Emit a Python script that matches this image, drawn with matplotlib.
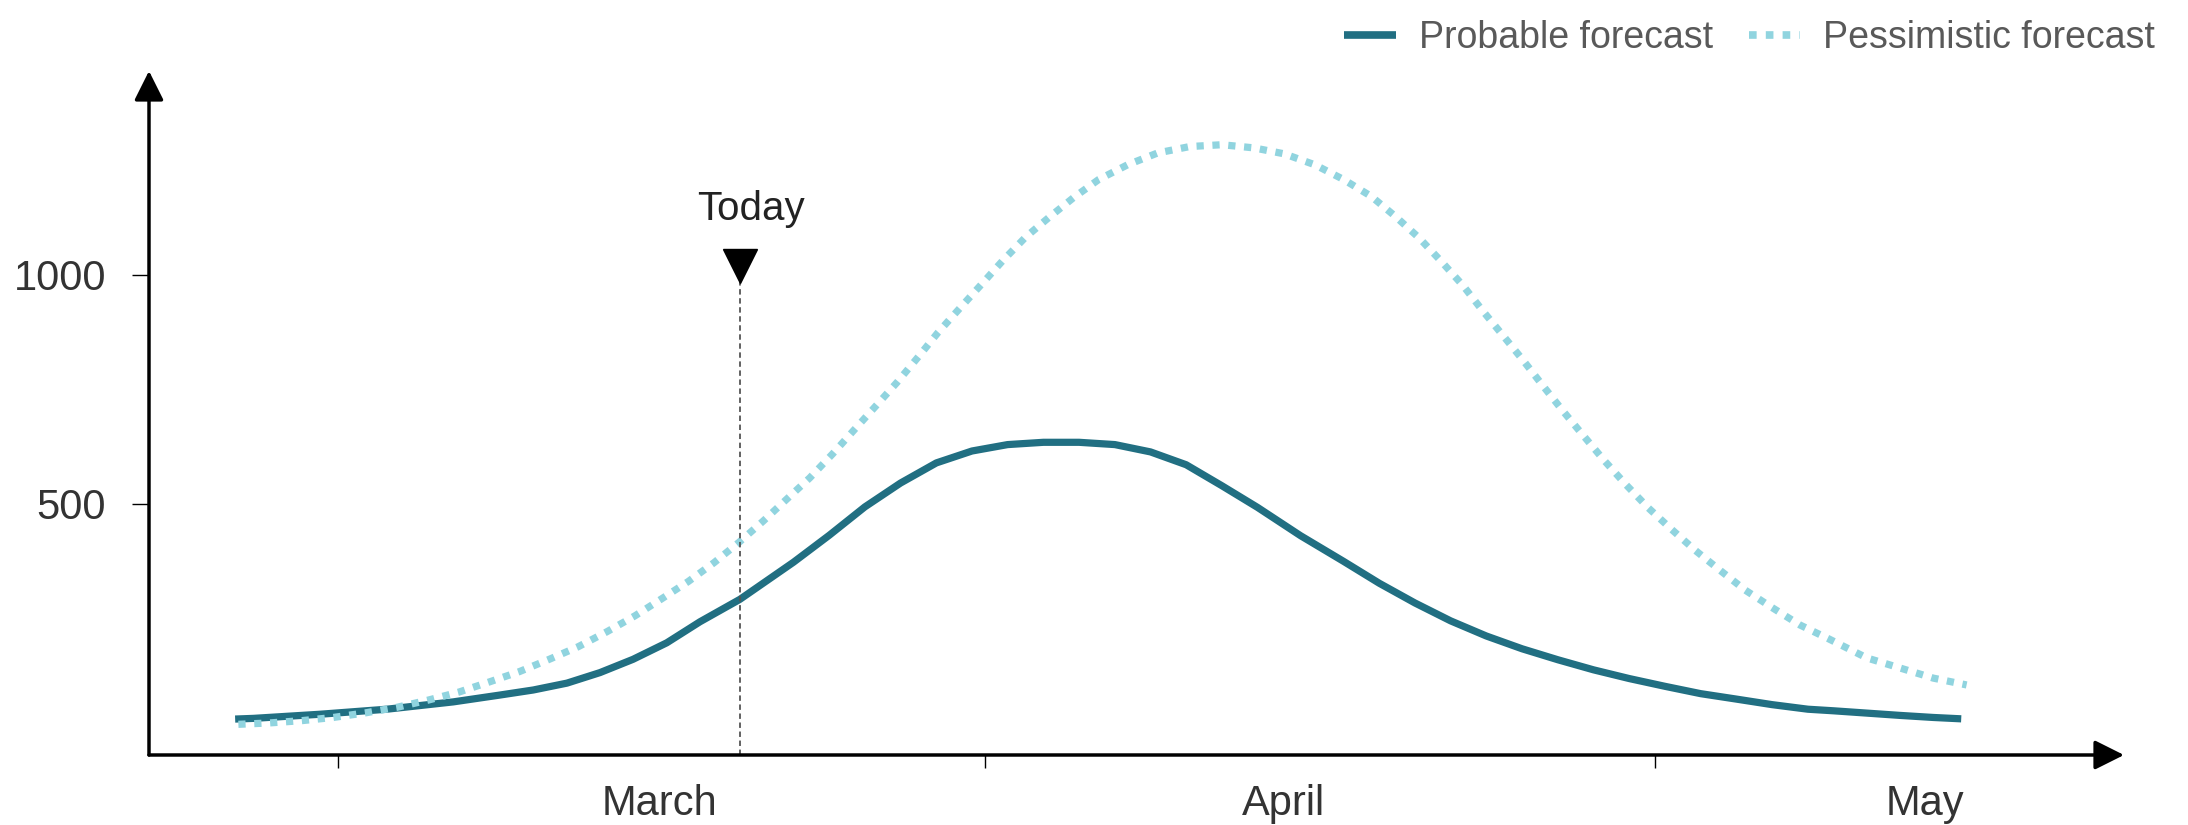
import matplotlib
matplotlib.use("Agg")
import matplotlib.pyplot as plt
from matplotlib.lines import Line2D

plt.rcParams["font.family"] = ["Liberation Sans", "DejaVu Sans"]

# days counted from the first month tick
probable_days = [-4.75, -3.9, -0.82, 2.27, 5.35, 7.52, 9.06, 10.62, 12.15, 13.68,
                 15.24, 16.78, 18.63, 21.11, 22.77, 24.42, 26.07, 27.73, 29.38, 31.03,
                 32.69, 34.34, 36.0, 37.65, 39.3, 40.96, 42.6, 44.6, 46.59, 48.25,
                 49.9, 51.55, 53.2, 54.86, 56.52, 58.17, 59.82, 61.48, 63.13, 64.8,
                 66.44, 68.1, 69.27, 72.36, 73.9, 75.2]
probable = [29.5, 31, 40, 51, 67, 82, 93, 108, 131, 160,
            196, 242, 291, 372, 431, 493, 545, 589, 615, 629,
            634, 634, 629, 613, 585, 539, 492, 430, 374, 326,
            283, 244, 211, 183, 159, 137, 118, 101, 85, 73,
            61, 51, 47.6, 37.5, 33, 30]

pessimistic_days = [-4.6, -3.17, -1.67, -0.2, 1.28, 2.73, 4.2, 5.62, 7.05, 8.41,
                    9.8, 11.14, 12.46, 13.77, 15.0, 16.24, 17.43, 18.6, 19.71, 20.78,
                    21.86, 22.93, 23.92, 24.92, 25.91, 26.9, 27.81, 28.8, 29.8, 30.79,
                    31.86, 32.94, 34.1, 35.25, 36.58, 37.98, 39.47, 40.96, 42.45, 43.85,
                    45.27, 46.59, 47.88, 49.0, 50.1, 51.14, 52.13, 53.04, 53.98, 54.91,
                    55.85, 56.76, 57.71, 58.67, 59.66, 60.7, 61.78, 62.88, 64.04, 65.2,
                    66.44, 67.73, 69.05, 70.83, 72.37, 73.9, 75.45]
pessimistic = [18, 21, 26, 33, 43, 55, 71, 88.5, 111, 133,
               160, 187.5, 220, 255, 292, 330, 371, 416, 462, 509,
               556, 609, 661, 713, 765, 821, 874, 926, 978, 1030,
               1082, 1125, 1169, 1208, 1240, 1266, 1280, 1284, 1277, 1264,
               1240, 1208, 1171, 1127, 1080, 1028, 976, 921, 867, 813,
               756, 702, 648, 594, 542, 491, 444, 398, 354, 311,
               273, 235, 205, 163, 141, 119, 104]

month_ticks = [0, 30, 61]
month_labels = ["March", "April", "May"]
month_label_pos = [14.9, 43.8, 73.5]
y_ticks = [500, 1000]
today = 18.63

dark_teal = "#216f82"
light_teal = "#90d4df"

fig = plt.figure(figsize=(21.88, 8.25), dpi=100)
ax = fig.add_axes([149 / 2188, 70 / 825, (2124 - 149) / 2188, (755 - 71) / 825])
ax.set_xlim(-8.74, 82.74)
ax.set_ylim(-49, 1445)
for s in ax.spines.values():
    s.set_visible(False)

# axis lines with arrow heads
arrow = dict(arrowstyle="-|>,head_length=0.4,head_width=0.2", color="black",
             lw=2.5, mutation_scale=45, shrinkA=0, shrinkB=0)
ax.annotate("", xy=(1, 0), xytext=(0, 0), xycoords="axes fraction", arrowprops=arrow)
ax.annotate("", xy=(0, 1), xytext=(0, 0), xycoords="axes fraction", arrowprops=arrow)

ax.plot(probable_days, probable, color=dark_teal, lw=5.2, solid_capstyle="butt",
        solid_joinstyle="round")
ax.plot(pessimistic_days, pessimistic, color=light_teal, lw=5.2,
        linestyle=(0, (1, 1.2)), dash_capstyle="butt")

# today marker
ax.plot([today, today], [-49, 985], color="#555555", lw=1.3, linestyle=(0, (3, 2)))
ax.plot(today, 1018, marker="v", ms=24, color="black")
ax.text(19.15, 1120, "Today", ha="center", va="baseline", fontsize=29, color="#222222")

ax.set_yticks(y_ticks)
ax.set_yticklabels([str(v) for v in y_ticks])
ax.tick_params(axis="y", length=12, width=1, pad=19, labelsize=30, labelcolor="#333333")

ax.set_xticks(month_ticks)
ax.set_xticklabels([""] * len(month_ticks))
ax.set_xticks(month_label_pos, minor=True)
ax.set_xticklabels(month_labels, minor=True)
ax.tick_params(axis="x", which="major", length=9, width=1)
ax.tick_params(axis="x", which="minor", length=0, pad=21, labelsize=30, labelcolor="#333333")

handles = [Line2D([], [], color=dark_teal, lw=5.5, solid_capstyle="butt"),
           Line2D([], [], color=light_teal, lw=5.5, linestyle=(0, (1, 1.2)), dash_capstyle="butt")]
fig.legend(handles, ["Probable forecast", "Pessimistic forecast"], loc="center right",
           bbox_to_anchor=(2155 / 2188, 1 - 38.5 / 825), ncol=2, frameon=False, fontsize=27,
           handlelength=1.37, handletextpad=0.62, columnspacing=0.95, borderpad=0,
           borderaxespad=0, labelcolor="#595959")

fig.savefig("out.png", dpi=100)
